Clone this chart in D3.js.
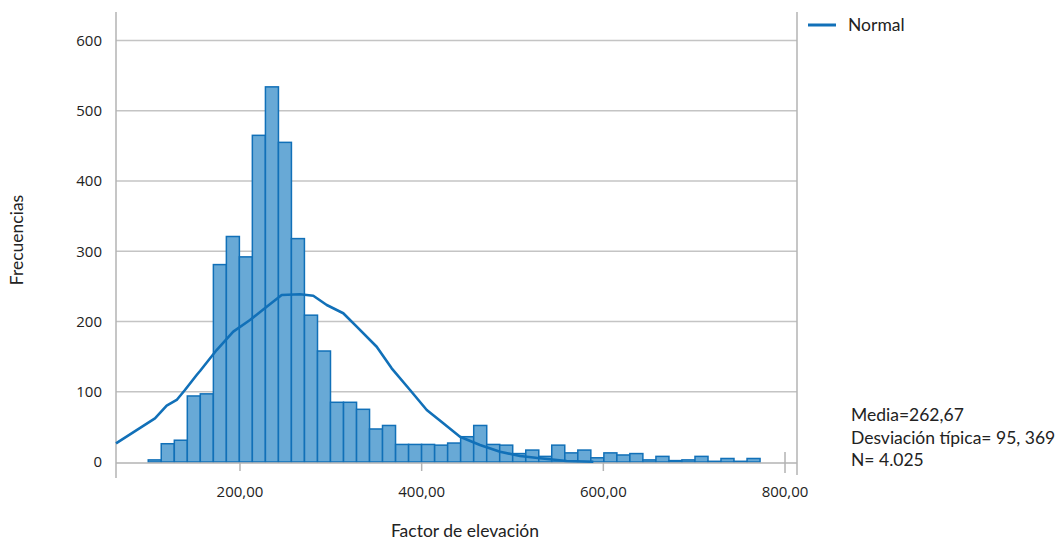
<!DOCTYPE html>
<html><head><meta charset="utf-8">
<script src="https://cdn.jsdelivr.net/npm/d3@7"></script>
<style>
body{margin:0;background:#fff;}
text{font-family:Lato, "Open Sans", sans-serif;fill:#222;}
</style></head>
<body><svg id="c" width="1059" height="540"></svg>
<script>
// Histogram bins (lower edges) and bin width
const binStarts = [99.0,113.3,127.7,142.0,156.3,170.7,185.0,199.3,213.6,228.0,242.3,256.6,271.0,285.3,299.6,314.0,328.3,342.6,356.9,371.3,385.6,399.9,414.3,428.6,442.9,457.3,471.6,485.9,500.2,514.6,528.9,543.2,557.6,571.9,586.2,600.6,614.9,629.2,643.5,657.9,672.2,686.5,700.9,715.2,729.5,743.9,758.2];
const binWidth = 14.33;
const counts = [3,26,31,94,97,281,321,292,465,534,455,318,209,158,85,85,75,47,52,25,25,25,24,27,36,52,25,24,12,17,8,24,13,17,6,13,10,12,3,8,2,3,8,1,5,1,5];
// Normal curve points
const curveX = [63.5,106.4,119.3,130.3,139.4,152.3,156,174.3,192.6,211,229.4,245.9,266.1,280.7,295.5,313.7,328.5,350.5,367,387.2,405.6,423.8,442.2,464.2,486.3,508.3,530.3,559.7,589];
const curveY = [26.6,62.2,80.1,88.3,102.5,123.8,129.5,159.4,185.5,202.1,221.1,237.7,238.7,236.7,223.5,211.7,192.6,164.1,133.4,102.5,74,55.1,36,24.2,14.7,8.5,5.3,1.4,0.3];
const xTicks = [200,400,600,800];
const yTicks = [0,100,200,300,400,500,600];
const statsLines = ["Media=262,67","Desviación típica= 95, 369","N= 4.025"];

const svg = d3.select("#c");
const x = d3.scaleLinear().domain([63.5,813.2]).range([116,797]);
const y = d3.scaleLinear().domain([0,600]).range([462,40.5]);
const blue = "#1170b8", fillc = "#68a9d6", grid = "#c4c4c4", axisc = "#b3b3b3";

// gridlines
svg.append("g").selectAll("line").data(yTicks.filter(d=>d>0)).join("line")
  .attr("x1",116).attr("x2",797).attr("y1",d=>y(d)).attr("y2",d=>y(d))
  .attr("stroke",grid).attr("stroke-width",1.3);

// y tick labels
svg.append("g").selectAll("text").data(yTicks).join("text")
  .attr("x",102).attr("y",d=>y(d)).attr("dy","0.35em").attr("text-anchor","end")
  .style("font-family","'Open Sans', sans-serif").style("font-size","15px").text(d=>d);

// bars
svg.append("g").selectAll("rect").data(counts).join("rect")
  .attr("x",(d,i)=>x(binStarts[i])).attr("width",(d,i)=>x(binStarts[i]+binWidth)-x(binStarts[i]))
  .attr("y",d=>y(d)).attr("height",d=>y(0)-y(d))
  .attr("fill",fillc).attr("stroke",blue).attr("stroke-width",1.5);

// axes lines
svg.append("line").attr("x1",116).attr("x2",797).attr("y1",y(0)+1).attr("y2",y(0)+1).attr("stroke",axisc).attr("stroke-width",1.5);
svg.append("line").attr("x1",116).attr("x2",116).attr("y1",12).attr("y2",478).attr("stroke",axisc).attr("stroke-width",1.5);
svg.append("line").attr("x1",797).attr("x2",797).attr("y1",12).attr("y2",475).attr("stroke",axisc).attr("stroke-width",1.5);

// x ticks
const fmt = d => d3.format(".2f")(d).replace(".",",");
svg.append("g").selectAll("line").data(xTicks).join("line")
  .attr("x1",d=>x(d)).attr("x2",d=>x(d)).attr("y1",d=>d===800?452:y(0)+1).attr("y2",d=>d===800?473:y(0)+9)
  .attr("stroke",axisc).attr("stroke-width",1.5);
svg.append("g").selectAll("text").data(xTicks).join("text")
  .attr("x",d=>x(d)).attr("y",497).attr("text-anchor","middle")
  .style("font-family","'Open Sans', sans-serif").style("font-size","15px").text(fmt);

// normal curve
const pts = curveX.map((v,i)=>[v,curveY[i]]);
svg.append("path").datum(pts)
  .attr("d",d3.line().x(d=>x(d[0])).y(d=>y(d[1])))
  .attr("fill","none").attr("stroke",blue).attr("stroke-width",2.6).attr("stroke-linejoin","round");

// axis titles
svg.append("text").attr("x",465).attr("y",537).attr("text-anchor","middle").style("font-size","17.5px").text("Factor de elevación");
svg.append("text").attr("transform","translate(23,240) rotate(-90)").attr("text-anchor","middle").style("font-size","17.5px").text("Frecuencias");

// legend
svg.append("line").attr("x1",808).attr("x2",836).attr("y1",25).attr("y2",25).attr("stroke",blue).attr("stroke-width",3);
svg.append("text").attr("x",848).attr("y",31).style("font-size","17.5px").text("Normal");

// stats
svg.append("g").selectAll("text").data(statsLines).join("text")
  .attr("x",851).attr("y",(d,i)=>421+i*22.5).style("font-size","17.5px").text(d=>d);
</script></body></html>
